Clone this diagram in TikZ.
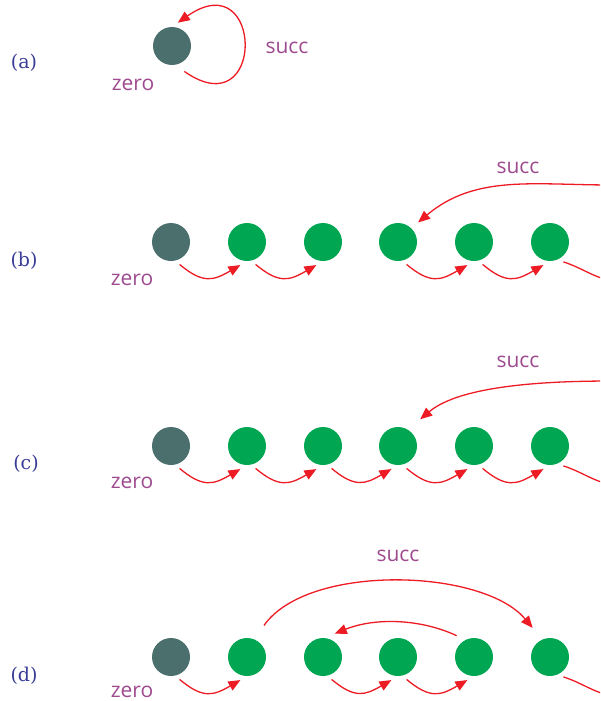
\documentclass[tikz,border=0pt]{standalone}
\usepackage{fontspec}
\newfontfamily\lblfont{Open Sans}
\newfontfamily\tagfont{DejaVu Serif}
\usetikzlibrary{arrows.meta}
\definecolor{zteal}{HTML}{4A6F6D}
\definecolor{sgreen}{HTML}{00A651}
\definecolor{arred}{HTML}{ED1C24}
\definecolor{lblpurple}{HTML}{9E4A8E}
\definecolor{tagblue}{HTML}{3A3D96}
\begin{document}
\begin{tikzpicture}[x=1pt,y=1pt,
  zeronode/.style={circle,fill=zteal,minimum size=38pt,inner sep=0pt,outer sep=5pt},
  numnode/.style={circle,fill=sgreen,minimum size=38pt,inner sep=0pt,outer sep=5pt},
  arr/.style={draw=arred,line width=1.3pt,-{Triangle[length=12pt,width=10pt]}},
  plainline/.style={draw=arred,line width=1.3pt},
  tag/.style={text=tagblue,font=\tagfont\fontsize{19}{19}\selectfont,anchor=base},
  lbl/.style={text=lblpurple,font=\lblfont\fontsize{21}{21}\selectfont,anchor=base,inner sep=1pt},
  step arrow/.style={arr,out=-40,in=-150,looseness=1.3}]
\useasboundingbox (0,0) rectangle (600,-701);
\clip (0,0) rectangle (600,-701);

% ---- (a)
\node[tag] (ta) at (24,-68) {(a)};
\node[zeronode] (a1) at (172,-46) {};
\node[lbl] (za) at (133,-90) {zero};
\node[lbl] (sa) at (287,-53) {succ};
\draw[arr,shorten <=5pt] (a1.-70) .. controls +(-35:105) and +(35:105) .. (a1.76);

% ---- (b)
\node[tag] (tb) at (24,-266) {(b)};
\node[zeronode] (b1) at (171,-242) {};
\foreach \i/\x in {2/247,3/323,4/398,5/474,6/550}
  \node[numnode] (b\i) at (\x,-242) {};
\node[lbl] (zb) at (132,-285) {zero};
\node[lbl] (sb) at (518,-173) {succ};
\foreach \i/\j in {1/2,2/3,4/5,5/6}
  \draw[step arrow] (b\i.-69) to (b\j.-106);
\coordinate (bR) at (612,-185);
\coordinate (bE) at (612,-281);
\draw[arr,shorten >=4pt] (bR) to[out=180,in=40] (b4.45);
\draw[plainline] (b6.-56) to[out=-18,in=168] (bE);

% ---- (c)
\node[tag] (tc) at (26,-469) {(c)};
\node[zeronode] (c1) at (171,-446) {};
\foreach \i/\x in {2/247,3/323,4/398,5/474,6/550}
  \node[numnode] (c\i) at (\x,-446) {};
\node[lbl] (zc) at (132,-488) {zero};
\node[lbl] (sc) at (518,-367) {succ};
\foreach \i/\j in {1/2,2/3,3/4,4/5,5/6}
  \draw[step arrow] (c\i.-69) to (c\j.-106);
\coordinate (cR) at (612,-381);
\coordinate (cE) at (612,-485);
\draw[arr,shorten >=11pt] (cR) to[out=180,in=40,looseness=0.8] (c4.55);
\draw[plainline] (c6.-56) to[out=-18,in=168] (cE);

% ---- (d)
\node[tag] (td) at (24,-681) {(d)};
\node[zeronode] (d1) at (171,-657) {};
\foreach \i/\x in {2/247,3/323,4/398,5/474,6/550}
  \node[numnode] (d\i) at (\x,-657) {};
\node[lbl] (zd) at (132,-697) {zero};
\node[lbl] (sd) at (398,-561) {succ};
\foreach \i/\j in {1/2,3/4,4/5}
  \draw[step arrow] (d\i.-69) to (d\j.-106);
\draw[arr,shorten <=12pt,shorten >=10pt] (d2.65) to[out=55,in=130,looseness=0.8] (d6.117);
\draw[arr,shorten <=4pt,shorten >=3pt] (d5.125) to[out=155,in=22,looseness=0.9] (d3.68);
\coordinate (dE) at (612,-696);
\draw[plainline] (d6.-56) to[out=-18,in=168] (dE);
\end{tikzpicture}
\end{document}
